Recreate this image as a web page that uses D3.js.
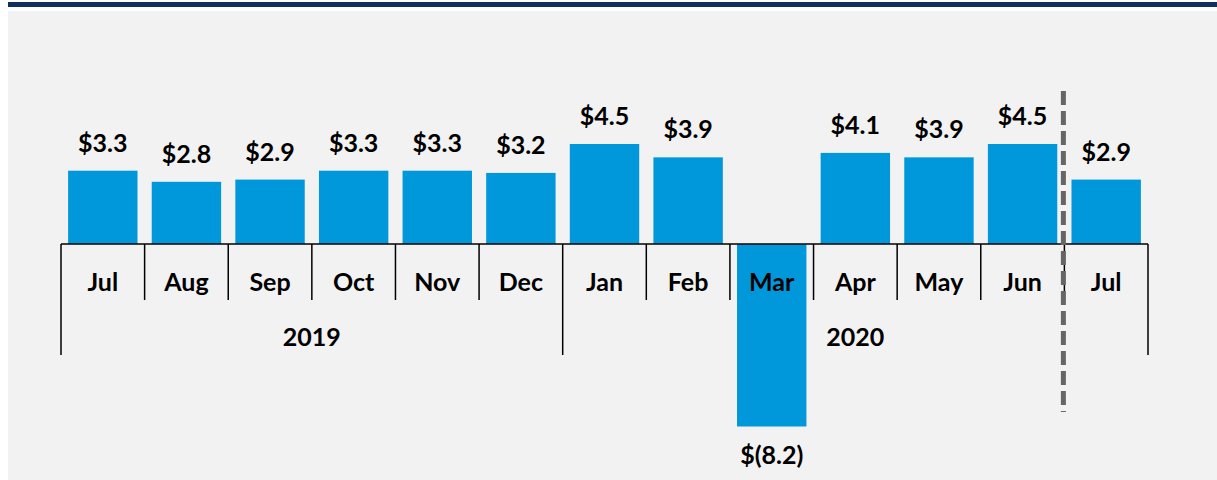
<!DOCTYPE html>
<html lang="en">
  <head>
    <meta charset="utf-8" />
    <title>Monthly values</title>
    <script src="https://cdnjs.cloudflare.com/ajax/libs/d3/7.8.5/d3.min.js"></script>
    <style type="text/css">
      body { margin: 0; background: #fff; }
      text { font-family: Lato, "Open Sans", sans-serif; font-weight: bold; fill: #000; }
    </style>
  </head>
  <body>
    <div id="chart"></div>
    <script>
      const months = ['Jul', 'Aug', 'Sep', 'Oct', 'Nov', 'Dec', 'Jan', 'Feb', 'Mar', 'Apr', 'May', 'Jun', 'Jul'];
      const values = [3.3, 2.8, 2.9, 3.3, 3.3, 3.2, 4.5, 3.9, -8.2, 4.1, 3.9, 4.5, 2.9];
      const labels = ['$3.3', '$2.8', '$2.9', '$3.3', '$3.3', '$3.2', '$4.5', '$3.9', '$(8.2)', '$4.1', '$3.9', '$4.5', '$2.9'];
      const years = ['2019', '2020'];
      const yearStart = [0, 6];   // index of first month of each year
      const yearEnd = [6, 13];

      const width = 1217, height = 480;
      const svg = d3.select('#chart').append('svg')
        .attr('width', width)
        .attr('height', height);

      // background + header band
      svg.append('rect').attr('x', 8).attr('y', 11).attr('width', width - 8).attr('height', height - 11).attr('fill', '#f2f2f2');
      svg.append('rect').attr('x', 8).attr('y', 2).attr('width', width - 8).attr('height', 5).attr('fill', '#10305f');

      const idx = d3.range(months.length);
      const x = d3.scaleBand().domain(idx).range([61, 1148]).paddingInner(0.17).paddingOuter(0.085);
      const y = d3.scaleLinear().domain([-8.2, 4.5]).range([426.5, 144]);
      const step = x.step();
      const left = x.range()[0];
      const bx = i => left + i * step; // band boundary
      const y0 = Math.round(y(0));

      // bars
      svg.selectAll('.bar')
        .data(values)
        .join('rect')
        .attr('class', 'bar')
        .attr('x', (d, i) => x(i))
        .attr('width', x.bandwidth())
        .attr('y', d => d >= 0 ? y(d) : y0)
        .attr('height', d => Math.abs(y(d) - y0))
        .attr('fill', '#0098da');

      // value labels
      svg.selectAll('.val')
        .data(values)
        .join('text')
        .attr('class', 'val')
        .attr('x', (d, i) => x(i) + x.bandwidth() / 2)
        .attr('y', d => d >= 0 ? y(d) - 19 : y(d) + 37)
        .attr('text-anchor', 'middle')
        .attr('font-size', 25)
        .text((d, i) => labels[i]);

      // zero axis line
      svg.append('line')
        .attr('x1', bx(0)).attr('x2', bx(months.length))
        .attr('y1', y0).attr('y2', y0)
        .attr('stroke', '#000').attr('stroke-width', 1.5);

      // separators: long at year boundaries, short between months
      const longAt = new Set(yearStart.concat([months.length]));
      svg.selectAll('.sep')
        .data(d3.range(months.length + 1))
        .join('line')
        .attr('class', 'sep')
        .attr('x1', i => bx(i)).attr('x2', i => bx(i))
        .attr('y1', y0)
        .attr('y2', i => longAt.has(i) ? 355 : 300)
        .attr('stroke', '#000').attr('stroke-width', 1.5);

      // month labels
      svg.selectAll('.month')
        .data(months)
        .join('text')
        .attr('class', 'month')
        .attr('x', (d, i) => x(i) + x.bandwidth() / 2)
        .attr('y', 291)
        .attr('text-anchor', 'middle')
        .attr('font-size', 25)
        .text(d => d);

      // year labels
      svg.selectAll('.year')
        .data(years)
        .join('text')
        .attr('class', 'year')
        .attr('x', (d, i) => (bx(yearStart[i]) + bx(yearEnd[i])) / 2)
        .attr('y', 346)
        .attr('text-anchor', 'middle')
        .attr('font-size', 25)
        .text(d => d);

      // dashed divider before latest month
      svg.append('line')
        .attr('x1', bx(12) - 1).attr('x2', bx(12) - 1)
        .attr('y1', 91).attr('y2', 412)
        .attr('stroke', '#666').attr('stroke-width', 5)
        .attr('stroke-dasharray', '14,6');
    </script>
  </body>
</html>
